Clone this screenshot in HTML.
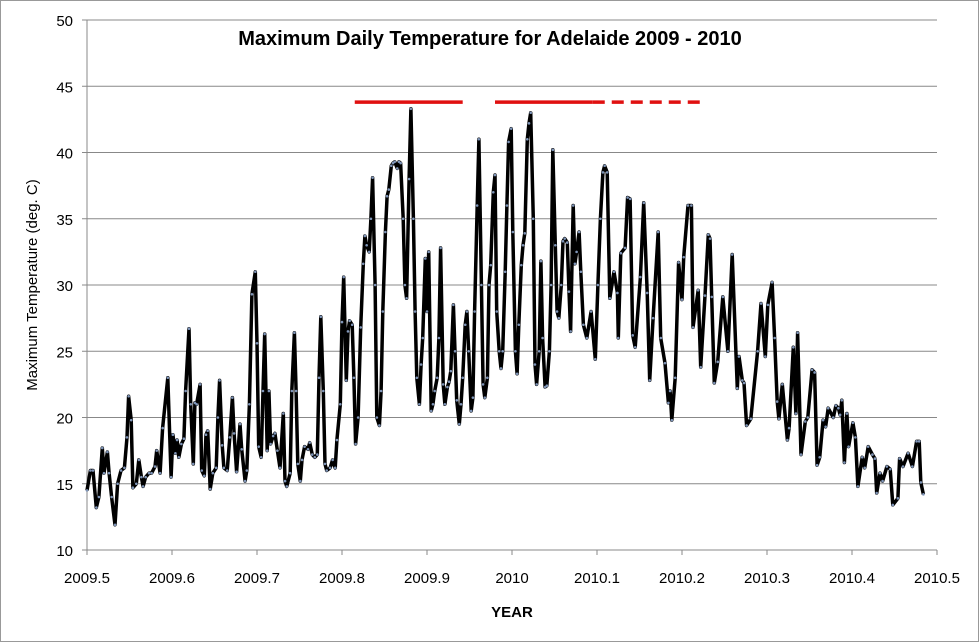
<!DOCTYPE html>
<html><head><meta charset="utf-8">
<style>
html,body{margin:0;padding:0;background:#fff;}
svg{display:block;font-family:"Liberation Sans",Arial,sans-serif;}
</style></head>
<body>
<svg id="chart" width="980" height="643" viewBox="0 0 980 643">
<rect x="0.5" y="0.5" width="978" height="641" fill="#fff" stroke="#999" stroke-width="1"/>
<g id="grid"></g>
<g id="axes"></g>
<g id="refs"></g>
<g id="series"></g>
<text x="490" y="45" text-anchor="middle" font-size="20" font-weight="bold">Maximum Daily Temperature for Adelaide 2009 - 2010</text>
<text x="512" y="617" text-anchor="middle" font-size="15" font-weight="bold">YEAR</text>
<text transform="translate(37,285) rotate(-90)" text-anchor="middle" font-size="15">Maximum Temperature (deg. C)</text>
</svg>
<script>
// offsets from 2009.5 in thousandths of a year
const yearOffsets = [0,4,7,11,14,18,20,24,26,29,33,36,40,44,47,49,52,54,58,61,64,66,69,73,76,80,82,86,89,95,99,101,104,106,108,111,114,116,120,122,125,127,129,133,135,138,140,142,145,148,152,154,156,159,161,165,168,171,173,176,180,182,186,188,191,194,198,200,202,205,207,209,212,214,216,219,221,224,227,231,233,235,239,241,244,246,248,251,253,256,260,262,265,268,271,273,275,278,280,282,286,289,292,294,298,300,302,305,307,309,312,314,316,319,322,325,327,329,332,334,336,339,341,344,346,348,351,353,355,358,360,362,365,367,369,372,374,376,379,381,384,386,388,391,393,395,398,400,402,405,407,409,412,414,416,419,421,424,426,428,431,433,435,438,440,442,445,447,449,452,454,456,459,461,464,466,468,471,473,475,478,480,482,485,487,489,492,494,496,499,501,504,506,508,511,513,515,518,520,522,525,527,529,532,534,536,539,541,544,546,548,551,553,555,558,560,562,565,567,569,572,574,576,579,581,584,588,593,598,601,604,607,609,612,615,620,624,625,628,633,636,639,642,645,651,655,659,662,666,672,675,680,684,686,688,692,696,700,702,707,711,713,719,722,727,731,733,735,738,742,748,754,759,765,767,771,773,776,781,789,793,798,801,806,809,812,814,818,824,826,831,834,836,840,845,848,853,856,859,862,866,869,872,878,881,884,886,888,891,894,896,901,904,907,912,915,919,924,927,929,933,936,941,945,948,954,956,960,966,971,976,979,981,984];
const temps = [14.5,16,16,13.2,14,17.7,15.8,17.4,15.8,14,11.9,15,16,16.2,18.5,21.6,19.8,14.7,15,16.8,15.5,14.8,15.5,15.8,15.8,16.3,17.5,15.8,19.2,23,15.5,18.7,17.3,18.3,17,18,18.4,22,26.7,21,16.5,21.1,21,22.5,16,15.6,18.7,19,14.6,15.8,16.2,20,22.8,17.9,16.2,16,18.5,21.5,18.8,15.9,19.5,17.6,15.2,16,21,29.3,31,25.6,17.8,17,22,26.3,17.5,22,18,18.6,18.8,17.5,16.2,20.3,15.2,14.8,15.8,22,26.4,22,16.5,15.2,16.8,17.8,17.6,18.1,17.2,17,17.2,23,27.6,22,16.5,16,16.2,16.8,16.2,18.3,21,27.2,30.6,22.8,26.5,27.3,27,23,18,20,26.8,31.6,33.7,33,32.5,35,38.1,30,20,19.4,22,28,34,36.7,37.2,39,39.2,39.3,38.8,39.3,39.2,35,30,29,38,43.3,35,28,23,21,24,26,32,28,32.5,20.5,21,22,23,26,32.8,22.5,21,22.3,22.7,23.5,28.5,25,21.3,19.5,21,23,27,28,25,20.5,21.5,28,36,41,30,22.5,21.5,23,30,31.5,37,38.3,28,25,23.7,25,31,36,40.8,41.8,34,25,23.3,27,31.5,33,33.9,41,42.2,43,35,24,22.5,25,31.8,26,22.3,22.4,25,30,40.2,33,28,27.5,30,33.3,33.5,33.2,29.5,26.5,36,31.6,32.5,34,31,27,26,28,24.4,30,35,38.5,39,38.5,29,31,29.4,26,32.4,32.8,36.6,36.5,26.2,25.3,30.6,36.2,29.4,22.8,27.5,34,26,24.1,21.1,22,19.8,23,31.7,28.9,32.1,36,36,26.8,29.6,23.8,29.2,33.8,33.5,29.1,22.6,24.2,29.1,25,32.3,22.2,24.6,22.8,22.6,19.4,19.9,25,28.6,24.6,28.5,30.2,26,21.2,19.9,22.5,18.3,19.2,25.3,20.3,26.4,17.2,19.7,20,23.6,23.4,16.4,17,19.8,19.3,20.7,20,20.9,20.7,20.2,21.3,16.6,20.3,17.8,19.6,18.5,14.8,17,16.2,17.8,17.2,16.9,14.3,15.8,15.2,16.3,16.1,13.4,13.9,16.9,16.3,17.3,16.3,18.2,18.2,15.1,14.2];
const xTicks = [2009.5,2009.6,2009.7,2009.8,2009.9,2010,2010.1,2010.2,2010.3,2010.4,2010.5];
const xTickLabels = ["2009.5","2009.6","2009.7","2009.8","2009.9","2010","2010.1","2010.2","2010.3","2010.4","2010.5"];
const yTicks = [10,15,20,25,30,35,40,45,50];
// record reference lines: [startYear, endYear, temperature, dashed]
const refStart = [2009.815, 2009.980, 2010.095];
const refEnd = [2009.942, 2010.095, 2010.227];
const refTemp = [43.8, 43.8, 43.8];
const refDashed = [false, false, true];

const L=87,R=937,T=20,B=550;
const xS = v => L + (v-2009.5)/1.0*(R-L);
const yS = v => B - (v-10)/40*(B-T);
const NS='http://www.w3.org/2000/svg';
function mk(tag,attrs,parent){const e=document.createElementNS(NS,tag);for(const k in attrs)e.setAttribute(k,attrs[k]);parent.appendChild(e);return e;}
const grid=document.getElementById('grid'), axes=document.getElementById('axes'), refs=document.getElementById('refs'), series=document.getElementById('series');

yTicks.forEach(t=>{
  if(t>10){
    const g=mk('line',{x1:L,x2:R,y1:yS(t),y2:yS(t),stroke:'#888','stroke-width':1},grid);
    
    
  }
  const tk=mk('line',{x1:L-5,x2:L,y1:yS(t),y2:yS(t),stroke:'#888'},axes);
  
  
  const lb=mk('text',{x:L-14,y:yS(t)+6,'text-anchor':'end','font-size':15},axes);
  lb.textContent=t;
  
  
});
xTicks.forEach((t,i)=>{
  const tk=mk('line',{x1:xS(t),x2:xS(t),y1:B,y2:B+5,stroke:'#888'},axes);
  
  
  const lb=mk('text',{x:xS(t),y:B+33,'text-anchor':'middle','font-size':15},axes);
  lb.textContent=xTickLabels[i];
  
  
});
const ya=mk('line',{x1:L,x2:L,y1:T,y2:B,stroke:'#888'},axes);


const xa=mk('line',{x1:L,x2:R,y1:B,y2:B,stroke:'#888'},axes);



refStart.forEach((s,i)=>{
  const a={x1:xS(s),x2:xS(refEnd[i]),y1:yS(refTemp[i]),y2:yS(refTemp[i]),stroke:'#e01010','stroke-width':3.5};
  if(refDashed[i]) a['stroke-dasharray']='12,7';
  const l=mk('line',a,refs);
  
  
});

const pts=yearOffsets.map((o,i)=>xS(2009.5+o/1000).toFixed(1)+','+yS(temps[i]).toFixed(1)).join(' ');
const pl=mk('polyline',{points:pts,fill:'none',stroke:'#000','stroke-width':3.5,'stroke-linejoin':'round'},series);


yearOffsets.forEach((o,i)=>{
  const c=mk('circle',{cx:xS(2009.5+o/1000),cy:yS(temps[i]),r:1.3,fill:'#7f95b8'},series);
  
  
});
</script>
</body></html>
